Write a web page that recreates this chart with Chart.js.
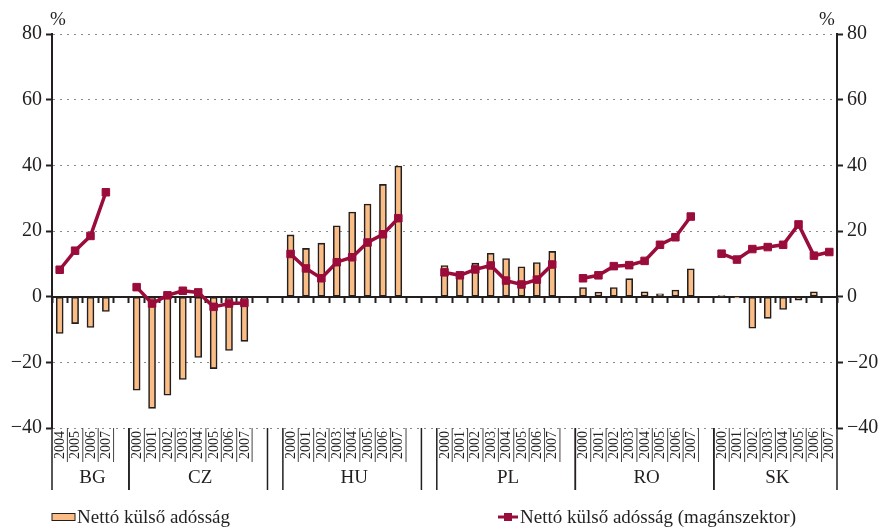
<!DOCTYPE html>
<html lang="hu">
<head>
  <meta charset="UTF-8">
  <title>Nettó külső adósság</title>
  <script src="https://cdn.jsdelivr.net/npm/chart.js"></script>
  <style>
    body { margin: 0; background: #fff; }
    #wrap { width: 880px; height: 527px; position: relative; }
  </style>
</head>
<body>
  <div id="wrap"><canvas id="debtChart"></canvas></div>

  <script>
    const countries = ['BG', 'CZ', 'HU', 'PL', 'RO', 'SK'];
    const bgYears = ['2004', '2005', '2006', '2007'];
    const allYears = ['2000', '2001', '2002', '2003', '2004', '2005', '2006', '2007'];
    const countryYears = [bgYears, allYears, allYears, allYears, allYears, allYears];
    // empty slots after each country block
    const padAfter = [1, 2, 2, 1, 1, 0];

    // Nettó külső adósság (% of GDP)
    const bgDebt = [-11.2, -8.2, -9.4, -4.5];
    const czDebt = [-28.5, -34, -30, -25.2, -18.5, -21.9, -16.4, -13.6];
    const huDebt = [18.8, 14.7, 16.3, 21.6, 25.8, 28.2, 34.2, 39.8];
    const plDebt = [9.5, 6, 10.2, 13.2, 11.6, 9.1, 10.4, 13.8];
    const roDebt = [2.8, 1.4, 2.8, 5.5, 1.5, 0.9, 2.0, 8.5];
    const skDebt = [0.3, -0.4, -9.6, -6.6, -3.9, -1.1, 1.5, 0];

    // Nettó külső adósság (magánszektor)
    const bgPrivate = [8.2, 14.0, 18.5, 31.8];
    const czPrivate = [2.9, -2.1, 0.4, 1.8, 1.3, -3.1, -2.1, -1.9];
    const huPrivate = [13, 8.6, 5.6, 10.5, 12, 16.5, 19, 23.9];
    const plPrivate = [7.4, 6.5, 8.3, 9.5, 4.9, 3.7, 5.2, 9.8];
    const roPrivate = [5.6, 6.5, 9.3, 9.6, 10.9, 15.8, 18.1, 24.4];
    const skPrivate = [13.1, 11.3, 14.5, 15.1, 15.8, 22, 12.5, 13.6];

    const yTicks = [-40, -20, 0, 20, 40, 60, 80];

    const debtSets = [bgDebt, czDebt, huDebt, plDebt, roDebt, skDebt];
    const privateSets = [bgPrivate, czPrivate, huPrivate, plPrivate, roPrivate, skPrivate];

    // flatten the blocks into one category axis with empty slots between countries
    const labels = [], debtData = [], privateData = [], groupStart = [];
    countries.forEach((c, i) => {
      groupStart.push(labels.length);
      countryYears[i].forEach((y, j) => {
        labels.push(c + ' ' + y);
        debtData.push(debtSets[i][j]);
        privateData.push(privateSets[i][j]);
      });
      for (let k = 0; k < padAfter[i]; k++) {
        labels.push('');
        debtData.push(null);
        privateData.push(null);
      }
    });

    const serif = '"Liberation Serif", "DejaVu Serif", serif';
    const ink = '#231f20';
    const barColor = '#fbbd86';
    const lineColor = '#9a0c3a';

    const tableLabels = {
      id: 'tableLabels',
      afterDraw(chart) {
        const ctx = chart.ctx;
        const x = chart.scales.x;
        const w = x.getPixelForValue(1) - x.getPixelForValue(0);
        const top = chart.chartArea.bottom;
        ctx.save();
        countries.forEach((c, i) => {
          const s = groupStart[i];
          const n = countryYears[i].length;
          const span = n + Math.min(padAfter[i], 1);
          const left = x.getPixelForValue(s) - w / 2;
          const right = x.getPixelForValue(s + span - 1) + w / 2;
          // group separators
          ctx.strokeStyle = ink;
          ctx.lineWidth = 1.5;
          ctx.beginPath();
          ctx.moveTo(left, top); ctx.lineTo(left, top + 62);
          ctx.moveTo(right, top); ctx.lineTo(right, top + 62);
          ctx.stroke();
          // year cells
          ctx.lineWidth = 1;
          ctx.strokeStyle = '#444';
          ctx.fillStyle = ink;
          ctx.font = '14px ' + serif;
          ctx.textAlign = 'right';
          ctx.textBaseline = 'middle';
          countryYears[i].forEach((y, j) => {
            const cx = x.getPixelForValue(s + j);
            const edge = cx + w / 2;
            if (j < n - 1 || span > n) {
              ctx.beginPath();
              ctx.moveTo(edge, top); ctx.lineTo(edge, top + 34);
              ctx.stroke();
            }
            ctx.save();
            ctx.translate(cx + 0.5, top + 3);
            ctx.rotate(-Math.PI / 2);
            ctx.fillText(y, 0, 0);
            ctx.restore();
          });
          ctx.font = '19px ' + serif;
          ctx.textAlign = 'center';
          ctx.fillText(c, (left + right) / 2 + 2, top + 50);
        });

        // % units
        ctx.font = '19px ' + serif;
        ctx.textAlign = 'center';
        ctx.textBaseline = 'middle';
        ctx.fillText('%', 58, 20);
        ctx.fillText('%', 827, 20);

        // legend
        const ly = 517;
        ctx.fillStyle = barColor;
        ctx.fillRect(52, ly - 3.5, 23, 7);
        ctx.strokeStyle = ink;
        ctx.lineWidth = 1;
        ctx.strokeRect(52, ly - 3.5, 23, 7);
        ctx.strokeStyle = lineColor;
        ctx.lineWidth = 3;
        ctx.beginPath();
        ctx.moveTo(498, ly); ctx.lineTo(518, ly);
        ctx.stroke();
        ctx.fillStyle = lineColor;
        ctx.fillRect(504, ly - 4, 8, 8);
        ctx.fillStyle = ink;
        ctx.textAlign = 'left';
        ctx.font = '19px ' + serif;
        ctx.fillText('Nettó külső adósság', 77, ly + 1);
        ctx.fillText('Nettó külső adósság (magánszektor)', 520, ly + 1);
        ctx.restore();
      }
    };

    const yAxis = (side) => ({
      type: 'linear',
      position: side,
      min: -40,
      max: 80,
      afterBuildTicks: axis => { axis.ticks = yTicks.map(v => ({ value: v })); },
      afterFit: axis => { axis.width = side === 'left' ? 52 : 43; },
      border: { color: ink, width: 2, dash: [2, 5] },
      grid: {
        drawOnChartArea: side === 'left',
        color: c => c.tick && c.tick.value === 0 ? 'rgba(0,0,0,0)' : '#8a8a8a',
        tickColor: ink,
        tickWidth: 2,
        tickLength: 6
      },
      ticks: {
        color: ink,
        padding: 4,
        font: { family: serif, size: 20 },
        callback: v => v < 0 ? '\u2212' + Math.abs(v) : String(v)
      }
    });

    new Chart(document.getElementById('debtChart'), {
      data: {
        labels,
        datasets: [
          {
            type: 'line',
            label: 'Nettó külső adósság (magánszektor)',
            data: privateData,
            order: 0,
            borderColor: lineColor,
            backgroundColor: lineColor,
            borderWidth: 3.5,
            pointStyle: 'rect',
            pointRadius: 5.3,
            pointBorderWidth: 1,
            spanGaps: false,
            tension: 0
          },
          {
            type: 'bar',
            label: 'Nettó külső adósság',
            data: debtData,
            order: 1,
            backgroundColor: barColor,
            borderColor: ink,
            borderWidth: 1.6,
            borderSkipped: false,
            barThickness: 7,
            categoryPercentage: 1
          }
        ]
      },
      options: {
        responsive: true,
        maintainAspectRatio: false,
        animation: false,
        layout: { padding: { top: 34, bottom: 99, left: 0, right: 0 } },
        plugins: {
          legend: { display: false },
          tooltip: { enabled: false }
        },
        scales: {
          x: { type: 'category', display: false, offset: true },
          x2: {
            type: 'category',
            labels,
            position: { y: 0 },
            offset: true,
            border: { color: ink, width: 2 },
            grid: { offset: true, drawOnChartArea: false, tickLength: 5, tickWidth: 2, tickColor: ink },
            ticks: { display: false, autoSkip: false }
          },
          y: yAxis('left'),
          y2: yAxis('right')
        }
      },
      plugins: [tableLabels]
    });
  </script>
</body>
</html>
